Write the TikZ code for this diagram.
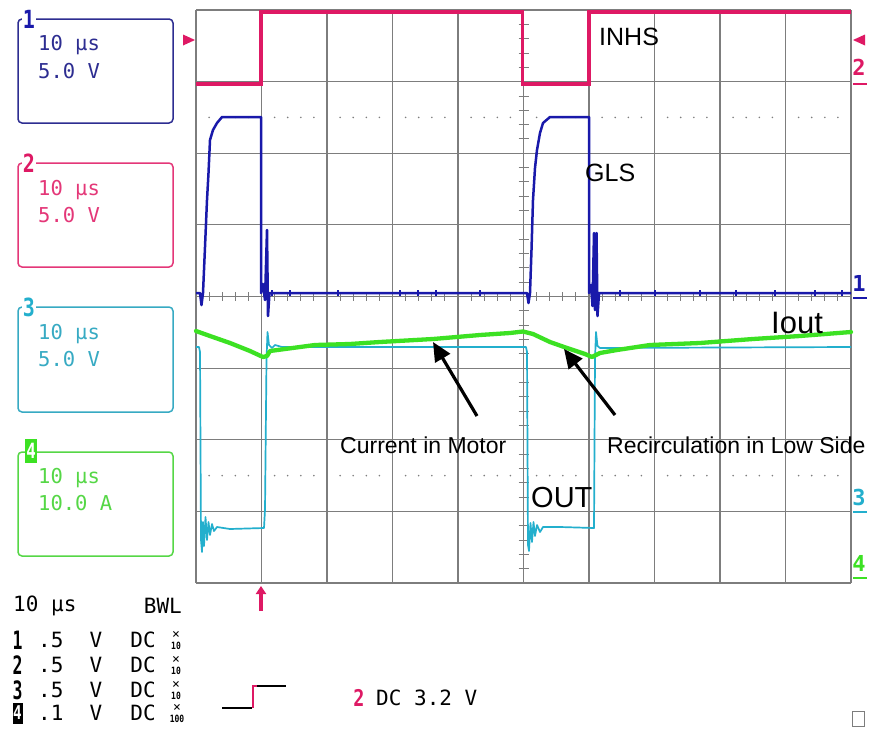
\documentclass[tikz,border=0pt]{standalone}
\usepackage{fontspec}
\setmainfont{Liberation Sans}
\newfontfamily\scopefont{DejaVu Sans Mono}
\usetikzlibrary{arrows.meta}
\definecolor{chA}{RGB}{25,25,170}
\definecolor{chB}{RGB}{222,25,100}
\definecolor{chC}{RGB}{35,175,205}
\definecolor{chD}{RGB}{60,225,35}
\definecolor{txA}{RGB}{45,45,145}
\definecolor{txB}{RGB}{228,55,120}
\definecolor{txC}{RGB}{55,170,195}
\definecolor{txD}{RGB}{85,215,70}
\definecolor{gridC}{RGB}{125,125,125}
\tikzset{
  gridline/.style={draw=gridC, line width=1.2pt},
  ticks/.style={draw=gridC, line width=0.9pt},
  panel/.style={line width=1.5pt, rounded corners=4pt},
  stxt/.style={anchor=west, inner sep=0pt, font=\scopefont\fontsize{20.5}{20.5}\selectfont},
  btxt/.style={inner sep=0pt, font=\scopefont\fontsize{21}{21}\selectfont},
  plabel/.style={inner sep=0.6pt, fill=white, font=\scopefont\bfseries\fontsize{25}{25}\selectfont},
  mk/.style={inner sep=0pt, font=\scopefont\bfseries\fontsize{22}{22}\selectfont},
  anno/.style={inner sep=0pt, text=black},
  bigarrow/.style={draw=black, line width=3.2pt, -{Triangle[length=19pt,width=17pt]}},
  trA/.style={draw=chA, line width=2.5pt, line join=round},
  trB/.style={draw=chB, line width=3.6pt, line join=miter},
  trC/.style={draw=chC, line width=1.7pt, line join=round},
  trD/.style={draw=chD, line width=4.3pt, line join=round, line cap=round}
}
\begin{document}
\begin{tikzpicture}[x=1pt,y=-1pt]
\useasboundingbox (0,0) rectangle (878,736);
\fill[white] (0,0) rectangle (878,736);

% ---- graticule
\foreach \i in {0,...,10} \draw[gridline] ({196+65.5*\i},10) -- ({196+65.5*\i},583);
\foreach \j in {0,...,8} \draw[gridline] (196,{10+71.625*\j}) -- (851,{10+71.625*\j});
\foreach \k in {1,...,49} {
  \pgfmathtruncatemacro\m{mod(\k,5)}
  \ifnum\m>0
    \draw[ticks] ({196+13.1*\k},292) -- ({196+13.1*\k},301);
    \fill[gridC] ({196+13.1*\k},117.4) circle (0.9);
    \fill[gridC] ({196+13.1*\k},475.6) circle (0.9);
  \fi
}
\foreach \k in {1,...,39} {
  \pgfmathtruncatemacro\m{mod(\k,5)}
  \ifnum\m>0
    \draw[ticks] (518.5,{10+14.325*\k}) -- (528.5,{10+14.325*\k});
  \fi
}

% ---- channel 2 (INHS)
\draw[trB] (196,84) -- (261,84) -- (261,12) -- (522.5,12) -- (522.5,84) -- (589,84) -- (589,12) -- (851,12);

% ---- channel 1 (GLS)
\draw[trA] (196,293) -- (200,293) -- (201.5,305) -- (203,293) -- (205,247) -- (207,200) -- (208.5,173) -- (210,140) -- (213,130) -- (217,123) -- (222,117) -- (261,117) -- (261,293)
  -- (263,284) -- (265,300) -- (267,230) -- (268,316) -- (269.5,293) -- (527,293) -- (528.5,303) -- (530,293) -- (531.5,250) -- (533,200) -- (535,168) -- (537,150) -- (540,133) -- (543,123) -- (550,117) -- (589,117) -- (589,293)
  -- (591,285) -- (592.5,306) -- (594,233) -- (595,310) -- (596.5,233) -- (597.5,316) -- (599,293) -- (851,293);
\foreach \x in {272,290,338,400,418,436,480,620,655,700,736,775,815,842}
  \draw[chA, line width=1.2pt] (\x,290) -- (\x,296);

% ---- channel 3 (OUT)
\draw[trC] (196,347) -- (199,347) -- (200,352) -- (201,540) -- (202,552) -- (203,522) -- (204,546) -- (205.5,517) -- (207,540) -- (208.5,522) -- (210,535) -- (212,524) -- (214,531) -- (217,527) -- (230,529) -- (264,528) -- (265,510) -- (266.5,360) -- (267.5,332) -- (269,345) -- (272,348) -- (275,345) -- (282,347) -- (526,347) -- (527,352) -- (528,545) -- (529,551) -- (530.5,523) -- (532,542) -- (533.5,522) -- (535,536) -- (537,525) -- (540,532) -- (543,527) -- (560,527) -- (594,528) -- (595,360) -- (596,332) -- (597.5,346) -- (600,348) -- (851,347);

% ---- channel 4 (Iout)
\draw[trD] (196,331) -- (210,336) -- (230,343) -- (250,351) -- (263,357) -- (267,356) -- (270,351) -- (285,349) -- (300,347) -- (315,345) -- (350,344) -- (380,342) -- (433,339) -- (480,335) -- (510,333) -- (523,331.5) -- (533,334) -- (550,342) -- (567,348) -- (585,354) -- (592,357) -- (600,353) -- (617,350) -- (650,345) -- (700,343) -- (753,339) -- (800,336) -- (851,332);

% ---- annotations
\node[anno, anchor=west, font=\fontsize{25}{25}\selectfont] (inhs) at (599,37) {INHS};
\node[anno, anchor=west, font=\fontsize{25}{25}\selectfont] (gls) at (585,173) {GLS};
\node[anno, anchor=west, font=\fontsize{31}{31}\selectfont] (iout) at (771,323) {Iout};
\node[anno, anchor=west, font=\fontsize{29}{29}\selectfont] (out) at (531,498) {OUT};
\node[anno, anchor=west, font=\fontsize{23}{23}\selectfont] (cim) at (340,445) {Current in Motor};
\node[anno, anchor=west, font=\fontsize{23}{23}\selectfont] (rls) at (607,445) {Recirculation in Low Side};
\coordinate (cimTail) at (477,416);
\coordinate (cimTip) at (433,342);
\coordinate (rlsTail) at (615,415);
\coordinate (rlsTip) at (564,349);
\draw[bigarrow] (cimTail) -- (cimTip);
\draw[bigarrow] (rlsTail) -- (rlsTip);

% ---- level markers
\fill[chB] (195,40) -- (183,34.5) -- (183,45.5) -- cycle;
\fill[chB] (853,40) -- (865,34.5) -- (865,45.5) -- cycle;
\node[mk, text=chB] (m2) at (859,67) {2};
\draw[chB, line width=1.6pt] (853,84) -- (867,84);
\node[mk, text=chA] (m1) at (859,283) {1};
\draw[chA, line width=1.6pt] (853,298) -- (867,298);
\node[mk, text=chC] (m3) at (859,497) {3};
\draw[chC, line width=1.6pt] (853,512) -- (867,512);
\node[mk, text=chD] (m4) at (859,563) {4};
\draw[chD, line width=1.6pt] (853,578) -- (867,578);
\draw[chB, line width=3.2pt, -{Triangle[length=8pt,width=10pt]}] (261,611) -- (261,586);

% ---- channel panels
\draw[panel, draw=txA] (18,19) rectangle (173,123);
\node[plabel, text=chA] (p1) at (29,19) {\scalebox{0.8}[1]{1}};
\node[stxt, text=txA] at (38,45) {10 μs};
\node[stxt, text=txA] at (38,71) {5.0 V};

\draw[panel, draw=txB] (18,163) rectangle (173,267);
\node[plabel, text=chB] (p2) at (29,163) {\scalebox{0.8}[1]{2}};
\node[stxt, text=txB] at (38,190) {10 μs};
\node[stxt, text=txB] at (38,215) {5.0 V};

\draw[panel, draw=txC] (18,307) rectangle (173,412);
\node[plabel, text=chC] (p3) at (29,307) {\scalebox{0.8}[1]{3}};
\node[stxt, text=txC] at (38,334) {10 μs};
\node[stxt, text=txC] at (38,359) {5.0 V};

\draw[panel, draw=txD] (18,452) rectangle (173,556);
\node[inner sep=0pt, minimum width=12pt, minimum height=24pt, fill=chD, text=white, font=\scopefont\bfseries\fontsize{21}{21}\selectfont] (p4) at (31,451) {\scalebox{0.75}[1]{4}};
\node[stxt, text=txD] at (38,478) {10 μs};
\node[stxt, text=txD] at (38,503) {10.0 A};

% ---- bottom status
\node[btxt, anchor=west] at (13,606) {10 μs};
\node[btxt, anchor=east] at (182,606) {BWL};
\foreach \r/\y/\v in {1/640/.5, 2/665/.5, 3/690/.5} {
  \node[inner sep=0pt, font=\scopefont\bfseries\fontsize{22}{22}\selectfont] at (17.5,\y) {\scalebox{0.75}[1.15]{\r}};
  \node[btxt, anchor=west] at (38,\y) {\v};
  \node[btxt] at (96,\y) {V};
  \node[btxt] at (143,\y) {DC};
  \node[inner sep=0pt, font=\scopefont\fontsize{13}{13}\selectfont] at (176,\y-5) {×};
  \node[inner sep=0pt, font=\scopefont\bfseries\fontsize{10}{10}\selectfont] at (176,\y+5.5) {\scalebox{0.8}[1]{10}};
}
\node[inner sep=0pt, minimum width=10pt, minimum height=21pt, fill=black, text=white, font=\scopefont\bfseries\fontsize{19}{19}\selectfont] at (17.5,713) {\scalebox{0.75}[1]{4}};
\node[btxt, anchor=west] at (38,713) {.1};
\node[btxt] at (96,713) {V};
\node[btxt] at (143,713) {DC};
\node[inner sep=0pt, font=\scopefont\fontsize{13}{13}\selectfont] at (177,707.5) {×};
\node[inner sep=0pt, font=\scopefont\bfseries\fontsize{10}{10}\selectfont] at (177,718.5) {\scalebox{0.8}[1]{100}};

% trigger symbol
\draw[black, line width=1.3pt] (222,708) -- (252,708);
\draw[chB, line width=2pt] (253,708) -- (253,686) -- (257,686);
\draw[black, line width=1.3pt] (257,686) -- (286,686);
\node[btxt, text=chB, font=\scopefont\bfseries\fontsize{23}{23}\selectfont] at (359,698) {\scalebox{0.8}[1]{2}};
\node[btxt, anchor=west] at (376,698) {DC 3.2 V};

\draw[gridC, line width=1pt] (852,711) rectangle (864,726);
\end{tikzpicture}
\end{document}
